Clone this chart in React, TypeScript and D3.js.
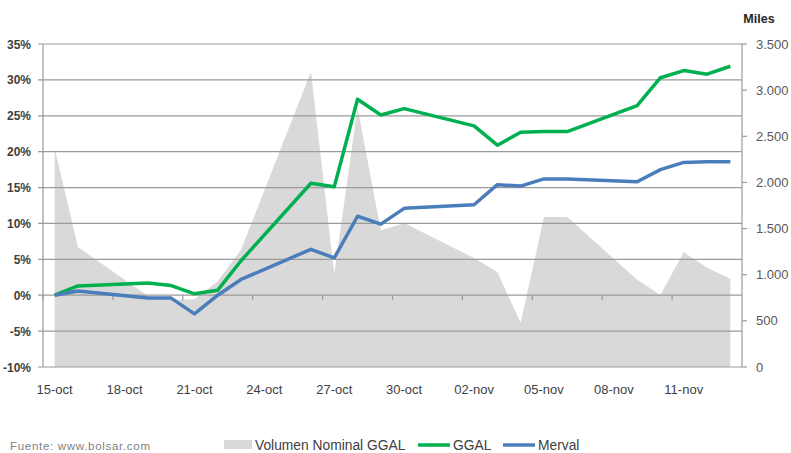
import React from "react";
import * as d3 from "d3";

// trading days (2015)
const dates = [
  "2015-10-15", "2015-10-16", "2015-10-19", "2015-10-20", "2015-10-21", "2015-10-22",
  "2015-10-23", "2015-10-26", "2015-10-27", "2015-10-28", "2015-10-29", "2015-10-30",
  "2015-11-02", "2015-11-03", "2015-11-04", "2015-11-05", "2015-11-06", "2015-11-09",
  "2015-11-10", "2015-11-11", "2015-11-12", "2015-11-13",
];
// volumen nominal GGAL (miles)
const volumen = [
  2370, 1300, 770, 725, 735, 930, 1270, 3200, 1010, 2810, 1480, 1560,
  1180, 1030, 480, 1625, 1625, 945, 780, 1245, 1075, 955,
];
// variación acumulada (%)
const ggal = [
  0, 1.3, 1.7, 1.35, 0.2, 0.7, 4.8, 15.6, 15.1, 27.3, 25.1, 26.0,
  23.6, 20.9, 22.7, 22.8, 22.8, 26.4, 30.3, 31.3, 30.8, 31.9,
];
const merval = [
  0, 0.6, -0.4, -0.4, -2.6, 0.0, 2.2, 6.4, 5.2, 11.0, 9.9, 12.1,
  12.6, 15.4, 15.2, 16.2, 16.2, 15.8, 17.5, 18.5, 18.6, 18.6,
];

const tickDates = [
  "2015-10-15", "2015-10-18", "2015-10-21", "2015-10-24", "2015-10-27",
  "2015-10-30", "2015-11-02", "2015-11-05", "2015-11-08", "2015-11-11",
];
const tickLabels = [
  "15-oct", "18-oct", "21-oct", "24-oct", "27-oct",
  "30-oct", "02-nov", "05-nov", "08-nov", "11-nov",
];
const pctTicks = [35, 30, 25, 20, 15, 10, 5, 0, -5, -10];
const volTicks = [3500, 3000, 2500, 2000, 1500, 1000, 500, 0];

const W = 791;
const H = 453;
const left = 43;
const right = 742;
const top = 44;
const bottom = 367;
const DAY = 86400000;
const FONT = "'Liberation Sans', Arial, sans-serif";

const parse = d3.utcParse("%Y-%m-%d");

export default function App() {
  const days = dates.map((d) => parse(d)!);
  const x = d3
    .scaleUtc()
    .domain([new Date(days[0].getTime() - DAY / 2), new Date(days[days.length - 1].getTime() + DAY / 2)])
    .range([left, right]);
  const yPct = d3.scaleLinear().domain([-10, 35]).range([bottom, top]);
  const yVol = d3.scaleLinear().domain([0, 3500]).range([bottom, top]);

  const area = d3
    .area<number>()
    .x((_, i) => x(days[i]))
    .y0(yVol(0))
    .y1((d) => yVol(d));
  const line = d3
    .line<number>()
    .x((_, i) => x(days[i]))
    .y((d) => yPct(d));

  const fmtVol = (v: number) => d3.format(",")(v).replace(/,/g, ".");
  const y0 = yPct(0);

  return (
    <div style={{ position: "fixed", left: 0, top: 0 }}>
      <svg width={W} height={H} style={{ display: "block", background: "#fff" }} fontFamily={FONT}>
        {/* volumen */}
        <path d={area(volumen) ?? ""} fill="#d9d9d9" />

        {/* grid */}
        {pctTicks.map((t) => (
          <line key={t} x1={left - 5} x2={right} y1={yPct(t)} y2={yPct(t)} stroke="#9a9a9a" strokeWidth={1.2} />
        ))}
        {/* left axis */}
        <line x1={left} x2={left} y1={top} y2={bottom} stroke="#9a9a9a" strokeWidth={1.2} />
        {pctTicks.map((t) => (
          <text
            key={"l" + t}
            x={31}
            y={yPct(t) + 4.5}
            textAnchor="end"
            fontSize={12}
            fontWeight="bold"
            fill="#404040"
          >
            {t}%
          </text>
        ))}

        {/* right axis */}
        <line x1={right} x2={right} y1={top} y2={bottom} stroke="#9a9a9a" strokeWidth={1.2} />
        {volTicks.map((t) => (
          <g key={"r" + t}>
            <line x1={right} x2={right + 5} y1={yVol(t)} y2={yVol(t)} stroke="#9a9a9a" strokeWidth={1.2} />
            <text x={756} y={yVol(t) + 4.5} fontSize={13} fill="#595959">
              {fmtVol(t)}
            </text>
          </g>
        ))}
        <text x={759} y={23} textAnchor="middle" fontSize={12.5} fontWeight="bold" fill="#262626">
          Miles
        </text>

        {/* x axis at 0% */}
        {tickDates.map((d) => {
          const tx = x(new Date(parse(d)!.getTime() - DAY / 2));
          return <line key={"t" + d} x1={tx} x2={tx} y1={y0} y2={y0 + 5} stroke="#9a9a9a" strokeWidth={1.2} />;
        })}
        {tickDates.map((d, i) => (
          <text key={"x" + d} x={x(parse(d)!)} y={394} textAnchor="middle" fontSize={13} fill="#404040">
            {tickLabels[i]}
          </text>
        ))}

        {/* series */}
        <path d={line(ggal) ?? ""} fill="none" stroke="#00b050" strokeWidth={3.5} strokeLinejoin="round" />
        <path d={line(merval) ?? ""} fill="none" stroke="#4a7ebb" strokeWidth={3.5} strokeLinejoin="round" />

        {/* legend */}
        <rect x={224} y={440} width={28} height={9} fill="#d9d9d9" />
        <text x={255} y={449.5} fontSize={13.8} fill="#404040">
          Volumen Nominal GGAL
        </text>
        <line x1={418} x2={450} y1={445} y2={445} stroke="#00b050" strokeWidth={3.5} />
        <text x={453} y={449.5} fontSize={13.8} fill="#404040">
          GGAL
        </text>
        <line x1={503} x2={535} y1={445} y2={445} stroke="#4a7ebb" strokeWidth={3.5} />
        <text x={538} y={449.5} fontSize={13.8} fill="#404040">
          Merval
        </text>

        <text x={10} y={450} fontSize={11.5} fill="#7f7f7f" letterSpacing={0.7}>
          Fuente: www.bolsar.com
        </text>
      </svg>
    </div>
  );
}
